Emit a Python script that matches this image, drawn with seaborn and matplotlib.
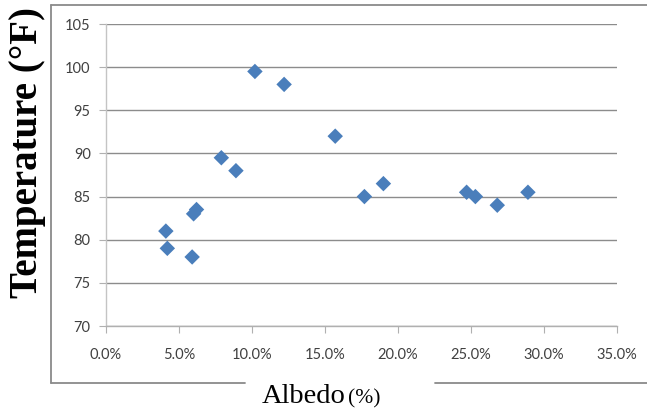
import matplotlib
matplotlib.use("Agg")
import matplotlib.pyplot as plt
import seaborn as sns
import pandas as pd
from matplotlib.lines import Line2D
from matplotlib.ticker import FuncFormatter

albedo = [4.1, 4.2, 5.9, 6.0, 6.2, 7.9, 8.9, 10.2, 12.2, 15.7, 17.7, 19.0, 24.7, 25.3, 26.8, 28.9]
temperature = [81, 79, 78, 83, 83.5, 89.5, 88, 99.5, 98, 92, 85, 86.5, 85.5, 85, 84, 85.5]
x_ticks = [0, 5, 10, 15, 20, 25, 30, 35]
y_ticks = [70, 75, 80, 85, 90, 95, 100, 105]

df = pd.DataFrame({"Albedo": albedo, "Temperature": temperature})

sns.set_style("white")
plt.rcParams['font.family'] = ['Lato', 'DejaVu Sans']

W, H = 647, 408
fig = plt.figure(figsize=(W / 100, H / 100), dpi=100)
ax = fig.add_axes([106 / W, 1 - 326 / H, (617 - 106) / W, (326 - 24) / H])

sns.scatterplot(data=df, x="Albedo", y="Temperature", ax=ax, marker="D",
                s=62, color="#4A7EBB", edgecolor="none", zorder=3, clip_on=False)

ax.set_xlim(0, 35)
ax.set_ylim(70, 105)
ax.set_xticks(x_ticks)
ax.set_yticks(y_ticks)
ax.xaxis.set_major_formatter(FuncFormatter(lambda v, p: f"{v:.1f}%"))
ax.yaxis.set_major_formatter(FuncFormatter(lambda v, p: f"{v:g}"))
ax.grid(axis="y", color="#8c8c8c", linewidth=1.0)
ax.grid(axis="x", visible=False)
for s in ["top", "right"]:
    ax.spines[s].set_visible(False)
ax.spines["left"].set_color("#c4c4c4")
ax.spines["bottom"].set_color("#b0b0b0")
ax.spines["left"].set_linewidth(1.0)
ax.spines["bottom"].set_linewidth(1.0)
ax.tick_params(axis="y", length=5, color="#b0b0b0", labelsize=10.5, labelcolor="#404040", pad=6, left=True)
ax.tick_params(axis="x", length=5, color="#b0b0b0", labelsize=10.5, labelcolor="#404040", pad=11, bottom=True)
ax.set_xlabel("")
ax.set_ylabel("")

# outer chart border (left, top, bottom split by the axis title)
bc = "#8a8a8a"
def fl(x0, y0, x1, y1):
    fig.add_artist(Line2D([x0 / W, x1 / W], [1 - y0 / H, 1 - y1 / H], color=bc, lw=1.3, transform=fig.transFigure))
fl(50.5, 5, 50.5, 383)
fl(50.5, 5, W, 5)
fl(50.5, 383, 245, 383)
fl(435, 383, W, 383)

fig.text(28 / W, 1 - 152.5 / H, "Temperature (°F)", rotation=90, ha="center", va="center",
         family=["Liberation Serif"], fontweight="bold", fontsize=28, color="black")
fig.text(262 / W, 1 - 403 / H, "Albedo", ha="left", va="baseline",
         family=["Liberation Serif"], fontsize=20.5, color="black")
fig.text(348 / W, 1 - 403 / H, "(%)", ha="left", va="baseline",
         family=["Liberation Serif"], fontsize=15.5, color="black")

fig.savefig("out.png", dpi=100)
